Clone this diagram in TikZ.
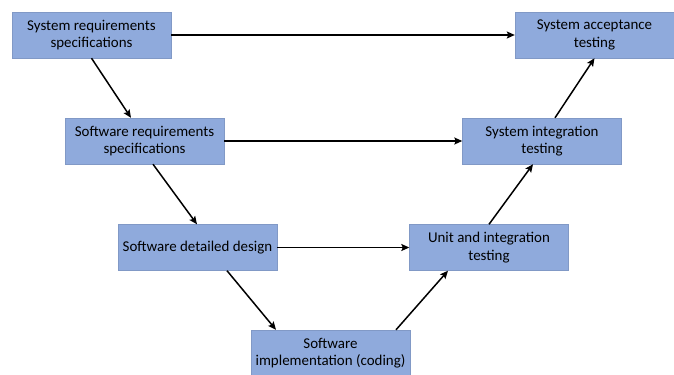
\documentclass[tikz,border=0pt]{standalone}
\usepackage{fontspec}
\setmainfont{Carlito}
\usetikzlibrary{arrows.meta}
\definecolor{boxblue}{HTML}{8FAADC}
\tikzset{
  box/.style={draw=boxblue!90!black, fill=boxblue, line width=0.4pt,
    minimum width=159bp, minimum height=46bp, inner sep=0pt,
    align=center, font=\fontsize{15}{17.7}\selectfont},
  link/.style={-{Stealth[length=8bp,width=7bp,inset=1.5bp]}, line width=1.5bp}
}
\begin{document}
\begin{tikzpicture}[x=1bp,y=-1bp]
        \useasboundingbox (0,0) rectangle (674,374);
        \node[box] (sysreq) at (91.5,35) {System requirements\\specifications};
        \node[box] (swreq) at (144.5,141) {Software requirements\\specifications};
        \node[box] (design) at (197.5,247.5) {Software detailed design};
        \node[box] (impl) at (330.5,353) {Software\\implementation (coding)};
        \node[box] (unit) at (489,247.5) {Unit and integration\\testing};
        \node[box] (integ) at (542,141) {System integration\\testing};
        \node[box] (accept) at (594.5,35) {System acceptance\\testing};
        \draw[link] (sysreq) -- (accept);
        \draw[link] (swreq) -- (integ);
        \draw[link] (design) -- (unit);
        \draw[link] (sysreq.south) -- ([xshift=-13.5bp]swreq.north);
        \draw[link] ([xshift=8.5bp]swreq.south) -- ([xshift=-0.5bp]design.north);
        \draw[link] ([xshift=29.5bp]design.south) -- ([xshift=-54.5bp]impl.north);
        \draw[link] ([xshift=65.5bp]impl.north) -- ([xshift=-41bp]unit.south);
        \draw[link] (unit.north) -- ([xshift=-9bp]integ.south);
        \draw[link] ([xshift=13bp]integ.north) -- (accept.south);
    \end{tikzpicture}
\end{document}
